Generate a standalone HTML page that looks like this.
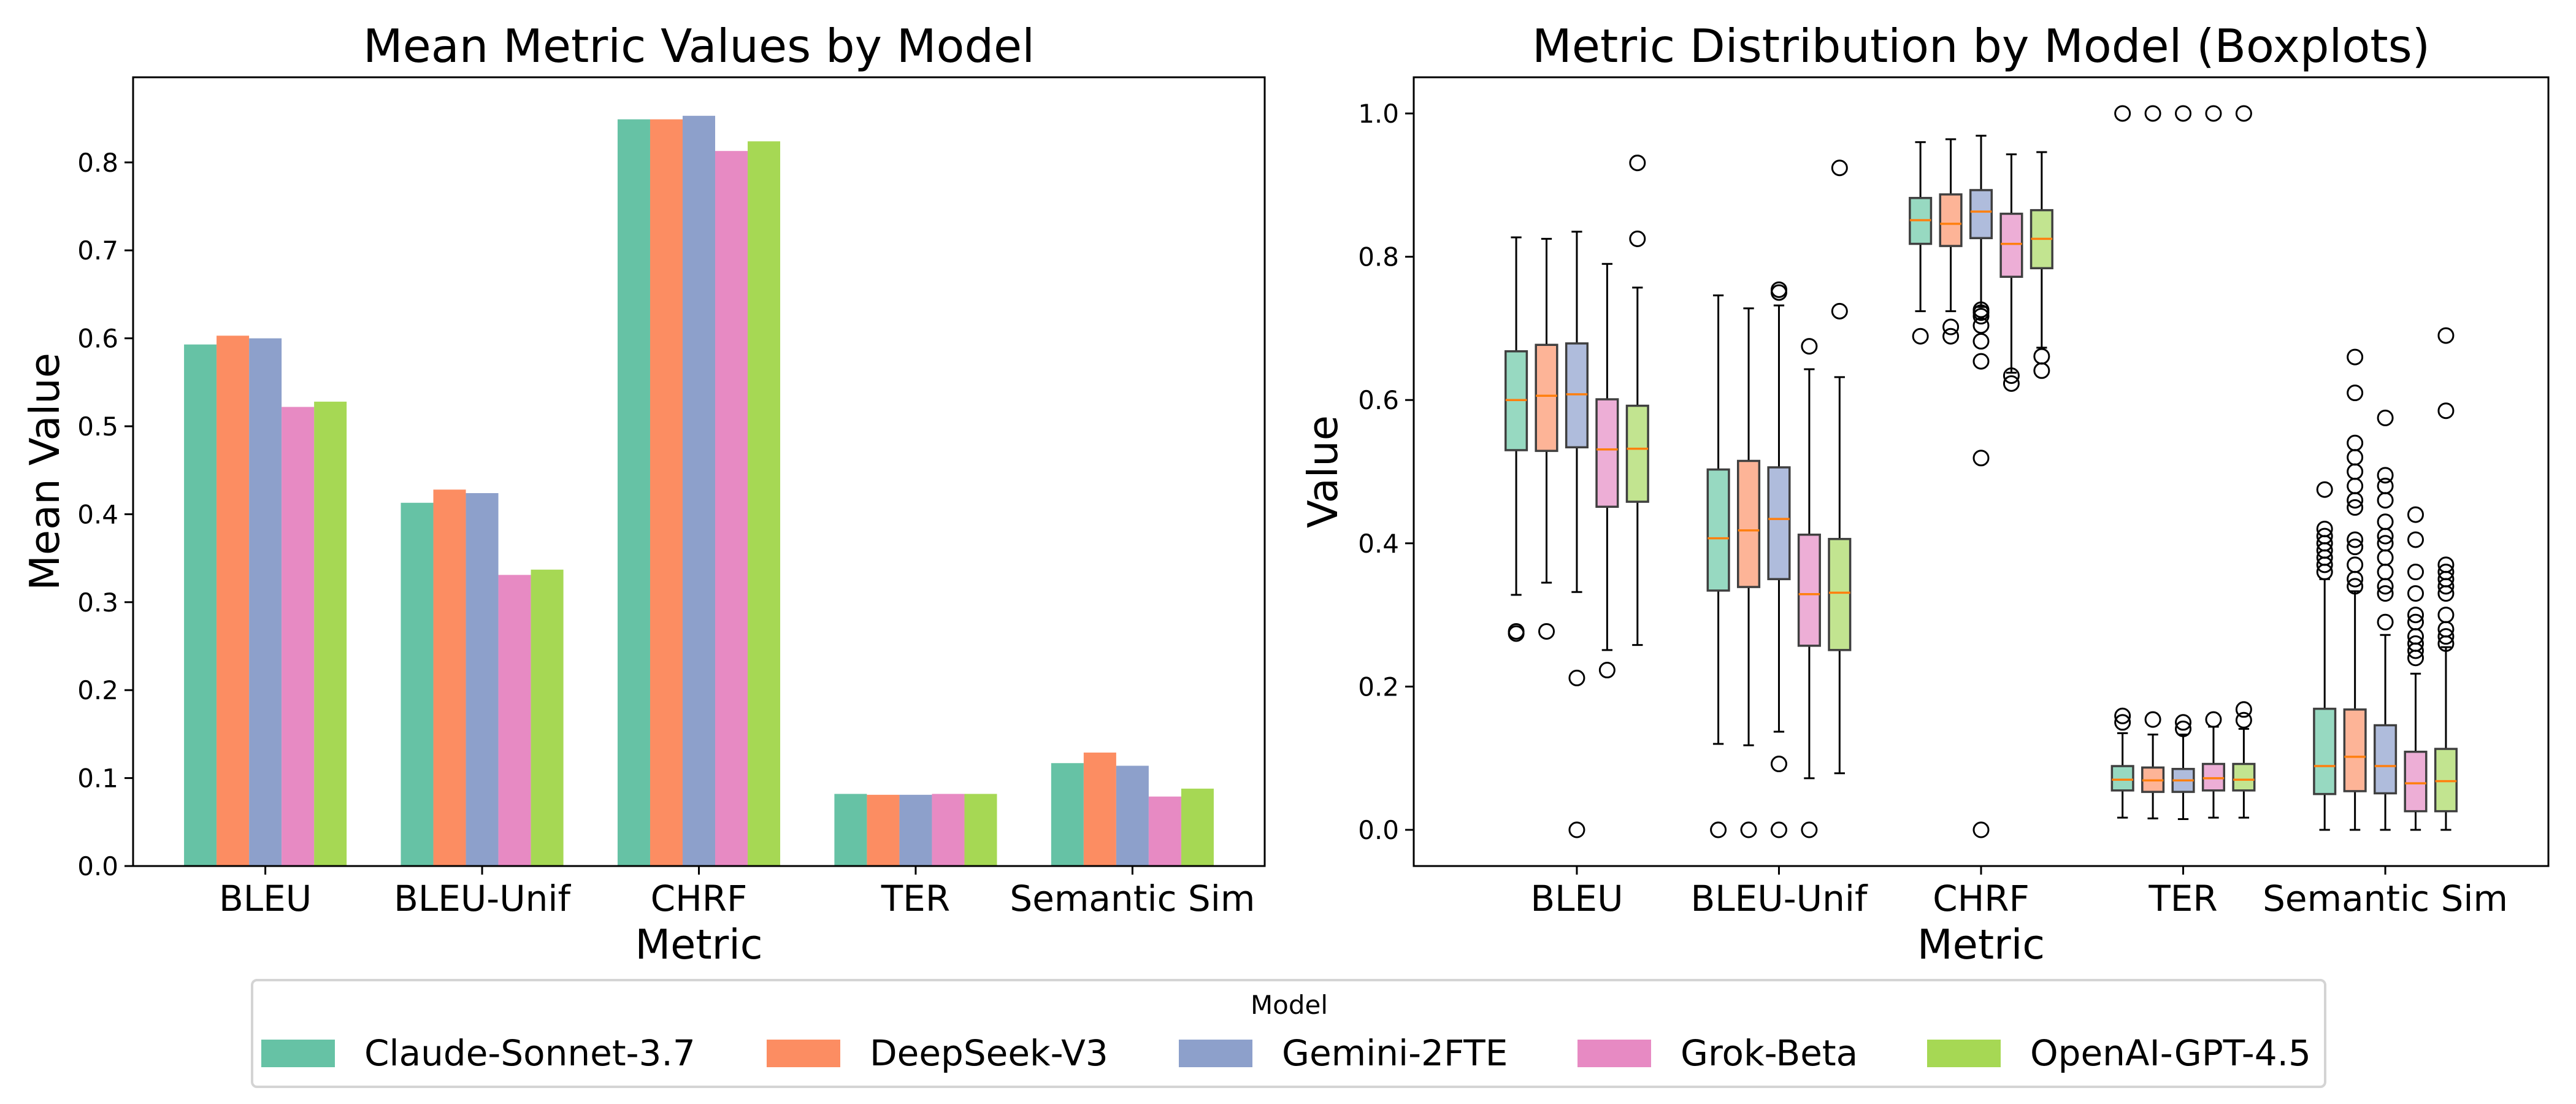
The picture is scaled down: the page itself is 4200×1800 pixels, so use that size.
<!DOCTYPE html>
<html><head><meta charset="utf-8"><style>
html,body{margin:0;padding:0;background:#fff;}
svg{display:block;font-family:"DejaVu Sans","Liberation Sans",sans-serif;}
</style></head><body>
<svg id="fig" width="4200" height="1800" viewBox="0 0 4200 1800" xmlns="http://www.w3.org/2000/svg">
<rect width="4200" height="1800" fill="#fff"/>
<g id="left"></g>
<g id="right"></g>
<g id="legend"></g>
</svg>
<script>
const categories = ["BLEU","BLEU-Unif","CHRF","TER","Semantic Sim"];
const models = ["Claude-Sonnet-3.7","DeepSeek-V3","Gemini-2FTE","Grok-Beta","OpenAI-GPT-4.5"];
const colors = ["#66c2a5","#fc8d62","#8da0cb","#e78ac3","#a6d854"];
const boxColors = ["#97d9c1","#fdb497","#afbcdc","#edaed6","#c2e490"];
const meanClaude = [0.593,0.413,0.849,0.082,0.117];
const meanDeepSeek = [0.603,0.428,0.849,0.081,0.129];
const meanGemini = [0.600,0.424,0.853,0.081,0.114];
const meanGrok = [0.522,0.331,0.813,0.082,0.079];
const meanOpenAI = [0.528,0.337,0.824,0.082,0.088];
const leftTicks = [0.0,0.1,0.2,0.3,0.4,0.5,0.6,0.7,0.8];
const rightTicks = [0.0,0.2,0.4,0.6,0.8,1.0];
// box stats per metric: [whiskerLow, q1, median, q3, whiskerHigh] for each model
const boxBLEU = [[0.328,0.530,0.600,0.668,0.827],[0.345,0.529,0.606,0.677,0.825],[0.332,0.534,0.608,0.679,0.835],[0.251,0.451,0.531,0.601,0.790],[0.258,0.458,0.532,0.592,0.757]];
const boxBLEUUnif = [[0.120,0.334,0.407,0.503,0.746],[0.118,0.339,0.418,0.515,0.728],[0.137,0.350,0.434,0.506,0.732],[0.072,0.257,0.329,0.412,0.643],[0.079,0.251,0.331,0.406,0.632]];
const boxCHRF = [[0.724,0.818,0.851,0.882,0.960],[0.724,0.815,0.846,0.887,0.964],[0.730,0.826,0.863,0.893,0.969],[0.638,0.772,0.818,0.860,0.943],[0.673,0.784,0.825,0.865,0.946]];
const boxTER = [[0.017,0.055,0.070,0.089,0.135],[0.016,0.053,0.069,0.087,0.133],[0.015,0.053,0.069,0.085,0.133],[0.017,0.055,0.072,0.092,0.144],[0.017,0.055,0.070,0.092,0.141]];
const boxSem = [[0,0.050,0.089,0.169,0.350],[0,0.054,0.102,0.168,0.333],[0,0.051,0.089,0.146,0.272],[0,0.026,0.065,0.109,0.218],[0,0.026,0.068,0.113,0.255]];
const outBLEU = [[0.274,0.277],[0.277],[0.212,0.0],[0.223],[0.825,0.931]];
const outBLEUUnif = [[0.0],[0.0],[0.750,0.754,0.092,0.0],[0.675,0.0],[0.724,0.924]];
const outCHRF = [[0.689],[0.702,0.689],[0.726,0.722,0.717,0.704,0.682,0.654,0.519,0.0],[0.634,0.623],[0.661,0.641]];
const outTER = [[0.159,0.150,1.0],[0.154,1.0],[0.150,0.141,1.0],[0.154,1.0],[0.168,0.153,1.0]];
const outSem = [[0.36,0.37,0.38,0.39,0.40,0.41,0.42,0.475],[0.34,0.35,0.37,0.395,0.405,0.45,0.46,0.48,0.50,0.52,0.54,0.61,0.66],[0.29,0.33,0.34,0.36,0.38,0.40,0.41,0.43,0.46,0.48,0.495,0.575],[0.24,0.25,0.26,0.27,0.29,0.30,0.33,0.36,0.405,0.44],[0.26,0.27,0.28,0.30,0.33,0.34,0.35,0.36,0.37,0.585,0.69]];

const NS="http://www.w3.org/2000/svg";
function mk(parent,tag,attrs,text){const e=document.createElementNS(NS,tag);for(const k in attrs)e.setAttribute(k,attrs[k]);if(text!==undefined)e.textContent=text;parent.appendChild(e);return e;}

// ---------- Left chart ----------
const L=document.getElementById('left');
const lx0=217,lx1=2062,ly0=126,ly1=1412;
const lxMin=-0.61,lxMax=4.61,lyMin=0,lyMax=0.8968;
const lX=v=>lx0+(v-lxMin)/(lxMax-lxMin)*(lx1-lx0);
const lY=v=>ly1-(v-lyMin)/(lyMax-lyMin)*(ly1-ly0);
const means=[meanClaude,meanDeepSeek,meanGemini,meanGrok,meanOpenAI];
const bw=0.15;
for(let m=0;m<5;m++){for(let c=0;c<5;c++){
  const xc=c+(m-2)*bw;const x=lX(xc-bw/2),w=lX(xc+bw/2)-x;const y=lY(means[m][c]);
  const r=mk(L,'rect',{x:x,y:y,width:w,height:lY(0)-y,fill:colors[m]});
  
  
}}
mk(L,'rect',{x:lx0,y:ly0,width:lx1-lx0,height:ly1-ly0,fill:'none',stroke:'#000','stroke-width':3});
leftTicks.forEach(t=>{const y=lY(t);mk(L,'line',{x1:lx0-14,x2:lx0,y1:y,y2:y,stroke:'#000','stroke-width':3});
  const tx=mk(L,'text',{x:lx0-24,y:y+15,'text-anchor':'end','font-size':42},t.toFixed(1));
  });
categories.forEach((c,i)=>{const x=lX(i);mk(L,'line',{x1:x,x2:x,y1:ly1,y2:ly1+14,stroke:'#000','stroke-width':3});
  const tx=mk(L,'text',{x:x,y:1485,'text-anchor':'middle','font-size':58},c);
  });
mk(L,'text',{x:(lx0+lx1)/2,y:101,'text-anchor':'middle','font-size':75},'Mean Metric Values by Model');
mk(L,'text',{x:(lx0+lx1)/2,y:1563,'text-anchor':'middle','font-size':67},'Metric');
mk(L,'text',{x:0,y:0,'text-anchor':'middle','font-size':67,transform:'translate(96,'+((ly0+ly1)/2)+') rotate(-90)'},'Mean Value');

// ---------- Right chart ----------
const R=document.getElementById('right');
const rx0=2305,rx1=4155,ry0=126,ry1=1412;
const rxMin=-0.807,rxMax=4.807,ryMin=-0.0505,ryMax=1.0505;
const rX=v=>rx0+(v-rxMin)/(rxMax-rxMin)*(rx1-rx0);
const rY=v=>ry1-(v-ryMin)/(ryMax-ryMin)*(ry1-ry0);
const boxes=[boxBLEU,boxBLEUUnif,boxCHRF,boxTER,boxSem];
const outs=[outBLEU,outBLEUUnif,outCHRF,outTER,outSem];
const bwid=0.105,off=0.15;
for(let c=0;c<5;c++){for(let m=0;m<5;m++){
  const s=boxes[c][m];const xc=c+(m-2)*off;const cx=rX(xc);
  const hw=(rX(xc+bwid/2)-rX(xc-bwid/2))/2;const cw=hw/2;
  const g=mk(R,'g',{});
  
  
  mk(g,'line',{x1:cx,x2:cx,y1:rY(s[0]),y2:rY(s[1]),stroke:'#000','stroke-width':3});
  mk(g,'line',{x1:cx,x2:cx,y1:rY(s[3]),y2:rY(s[4]),stroke:'#000','stroke-width':3});
  mk(g,'line',{x1:cx-cw,x2:cx+cw,y1:rY(s[0]),y2:rY(s[0]),stroke:'#000','stroke-width':3});
  mk(g,'line',{x1:cx-cw,x2:cx+cw,y1:rY(s[4]),y2:rY(s[4]),stroke:'#000','stroke-width':3});
  mk(g,'rect',{x:cx-hw,y:rY(s[3]),width:2*hw,height:rY(s[1])-rY(s[3]),fill:boxColors[m],stroke:'#3f3f3f','stroke-width':3.5});
  mk(g,'line',{x1:cx-hw,x2:cx+hw,y1:rY(s[2]),y2:rY(s[2]),stroke:'#ff7f0e','stroke-width':3.5});
  outs[c][m].forEach(v=>{mk(g,'circle',{cx:cx,cy:rY(v),r:12,fill:'none',stroke:'#000','stroke-width':3});});
}}
mk(R,'rect',{x:rx0,y:ry0,width:rx1-rx0,height:ry1-ry0,fill:'none',stroke:'#000','stroke-width':3});
rightTicks.forEach(t=>{const y=rY(t);mk(R,'line',{x1:rx0-14,x2:rx0,y1:y,y2:y,stroke:'#000','stroke-width':3});
  const tx=mk(R,'text',{x:rx0-24,y:y+15,'text-anchor':'end','font-size':42},t.toFixed(1));
  });
categories.forEach((c,i)=>{const x=rX(i);mk(R,'line',{x1:x,x2:x,y1:ry1,y2:ry1+14,stroke:'#000','stroke-width':3});
  const tx=mk(R,'text',{x:x,y:1485,'text-anchor':'middle','font-size':58},c);
  });
mk(R,'text',{x:(rx0+rx1)/2,y:101,'text-anchor':'middle','font-size':75},'Metric Distribution by Model (Boxplots)');
mk(R,'text',{x:(rx0+rx1)/2,y:1563,'text-anchor':'middle','font-size':67},'Metric');
mk(R,'text',{x:0,y:0,'text-anchor':'middle','font-size':67,transform:'translate(2180,'+((ry0+ry1)/2)+') rotate(-90)'},'Value');

// ---------- Legend ----------
const G=document.getElementById('legend');
mk(G,'rect',{x:411,y:1598,width:3380,height:174,rx:8,fill:'#fff',stroke:'#d4d4d4','stroke-width':4});
mk(G,'text',{x:2102,y:1653,'text-anchor':'middle','font-size':42},'Model');
const patchX=[426,1250,1922,2572,3142];
models.forEach((m,i)=>{
  const g=mk(G,'g',{});
  
  
  mk(g,'rect',{x:patchX[i],y:1695,width:120,height:45,fill:colors[i]});
  mk(g,'text',{x:patchX[i]+168,y:1737,'font-size':58},m);
});
</script>
</body></html>
